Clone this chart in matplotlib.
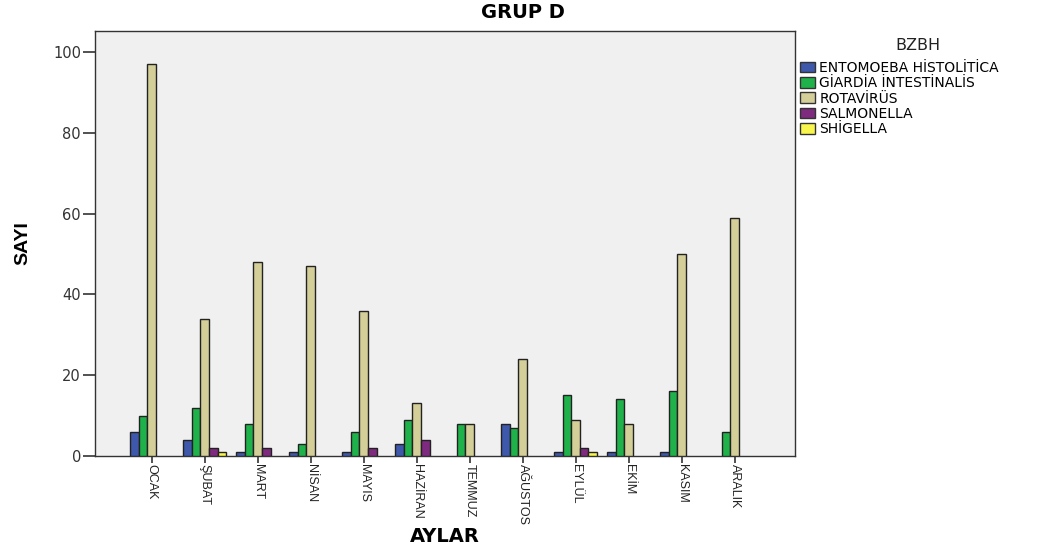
import numpy as np
import matplotlib.pyplot as plt
from matplotlib.patches import Patch

plt.rcParams['font.family'] = ['DejaVu Sans']

months = ['OCAK', 'ŞUBAT', 'MART', 'NİSAN', 'MAYIS', 'HAZİRAN', 'TEMMUZ',
          'AĞUSTOS', 'EYLÜL', 'EKİM', 'KASIM', 'ARALIK']
series = ['ENTOMOEBA HİSTOLİTİCA', 'GİARDİA İNTESTİNALİS', 'ROTAVİRÜS',
          'SALMONELLA', 'SHİGELLA']
entomoeba = [6, 4, 1, 1, 1, 3, 0, 8, 1, 1, 1, 0]
giardia = [10, 12, 8, 3, 6, 9, 8, 7, 15, 14, 16, 6]
rotavirus = [97, 34, 48, 47, 36, 13, 8, 24, 9, 8, 50, 59]
salmonella = [0, 2, 2, 0, 2, 4, 0, 0, 2, 0, 0, 0]
shigella = [0, 1, 0, 0, 0, 0, 0, 0, 1, 0, 0, 0]
colors = ['#3E58AC', '#20B24A', '#D4CE98', '#7D2A7F', '#F8F54C']

values = [entomoeba, giardia, rotavirus, salmonella, shigella]

fig = plt.figure(figsize=(10.48, 5.51), dpi=100)
ax = fig.add_axes([95/1048, 1-456/551, 700/1048, 425/551])
ax.set_facecolor('#F0F0F0')

x = np.arange(len(months))
w = 0.162
for i, (vals, col) in enumerate(zip(values, colors)):
    vals = np.array(vals)
    keep = vals > 0  # empty counts are not drawn at all
    ax.bar(x[keep] + (i - 2) * w, vals[keep], width=w, color=col,
           edgecolor='#222222', linewidth=1.0, zorder=3)

ax.set_xlim(-1.07, 12.14)
ax.set_ylim(0, 105.2)
ax.set_yticks([0, 20, 40, 60, 80, 100])
ax.set_yticklabels(['0', '20', '40', '60', '80', '100'], fontsize=10.5, color='#333333')
ax.set_xticks(x)
ax.set_xticklabels(months, rotation=270, fontsize=9, va='top', ha='center',
                   family='Liberation Sans', color='#222222')
ax.tick_params(axis='y', length=9, width=1.2, color='#333333', pad=1)
ax.tick_params(axis='x', length=5, width=1.2, color='#333333', pad=1)
for s in ax.spines.values():
    s.set_color('#333333')
    s.set_linewidth(1.0)

ax.set_ylabel('SAYI', fontsize=14, fontweight='bold', family='Liberation Sans',
              labelpad=16)
fig.text(445/1048, 1-536/551, 'AYLAR', fontsize=14, fontweight='bold',
         ha='center', va='center')
fig.text(523/1048, 1-12/551, 'GRUP D', fontsize=14, fontweight='bold',
         ha='center', va='center')

# legend title placed on its own so the gap above the entries matches
fig.text(918/1048, 1-45/551, 'BZBH', fontsize=11.5, ha='center', va='center',
         color='#222222')
handles = [Patch(facecolor=c, edgecolor='#333333', label=s) for s, c in zip(series, colors)]
leg = fig.legend(handles=handles, loc='upper left', bbox_to_anchor=(797/1048, 1-58/551),
                 frameon=False, fontsize=10,
                 handlelength=1.1, handleheight=0.8, handletextpad=0.3,
                 labelspacing=0.1, borderaxespad=0, borderpad=0.2)

fig.savefig('out.png', dpi=100)
